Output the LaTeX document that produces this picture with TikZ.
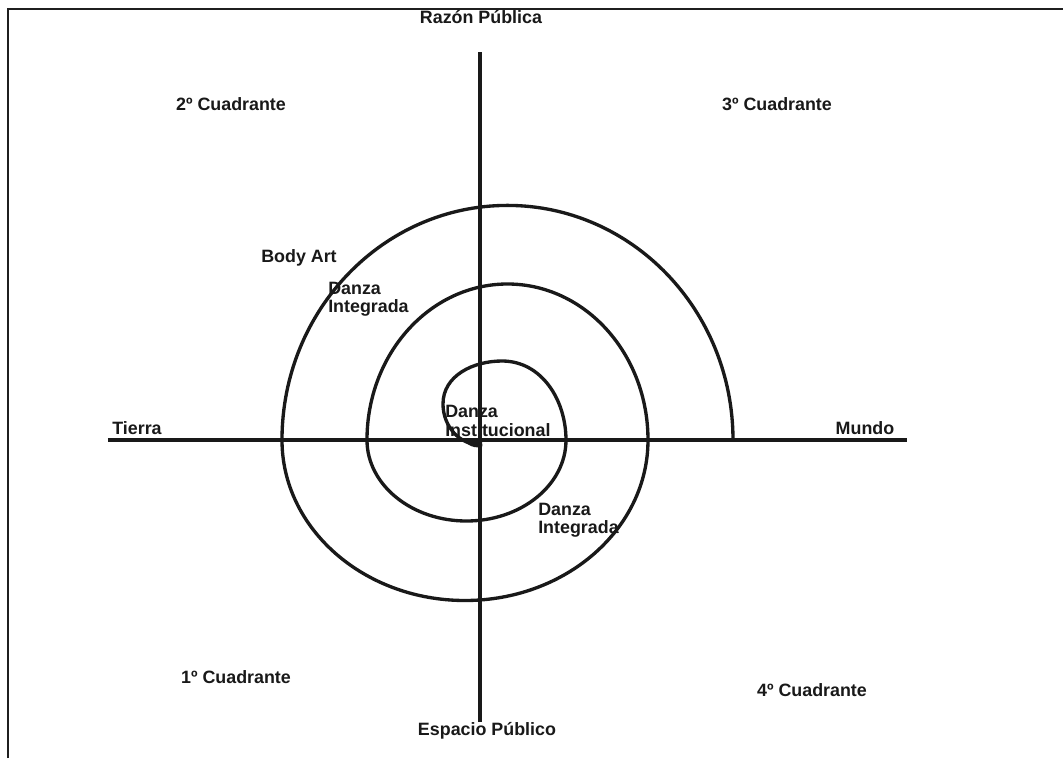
\documentclass[tikz,border=0pt]{standalone}
\usepackage{fontspec}
\setmainfont{Liberation Sans}
\usepackage{tikz}
\usetikzlibrary{positioning}

\begin{document}
\begin{tikzpicture}[
    x=0.75pt, y=0.75pt,
    every node/.style={font=\bfseries\fontsize{13.4}{13.6}\selectfont, text=black!90, inner sep=0pt},
    frameLine/.style={draw=black!88, line width=1.1pt},
    axisLine/.style={draw=black!90, line width=2.6pt},
    spiralLine/.style={draw=black!90, line width=2.5pt, line cap=round},
    axisLabel/.style={anchor=center},
    quadLabel/.style={anchor=center},
    tagLabel/.style={anchor=west, align=left}
  ]
    \useasboundingbox (-480,-318) rectangle (583,440);
    \fill[white] (-480,-318) rectangle (583,440);

    \coordinate (frameLow) at (-472,-318);
    \coordinate (frameCorner) at (-472,431);
    \coordinate (frameRight) at (583,431);
    \draw[frameLine] (frameLow) -- (frameCorner) -- (frameRight);

    \coordinate (axisTop) at (0,388);
    \coordinate (axisBottom) at (0,-282);
    \coordinate (axisLeft) at (-372,0);
    \coordinate (axisRight) at (427,0);
    \draw[axisLine] (axisTop) -- (axisBottom);
    \draw[axisLine] (axisLeft) -- (axisRight);

    \node[axisLabel] (razon) at (1,423) {Razón Pública};
    \node[axisLabel] (espacio) at (7,-291) {Espacio Público};
    \node[axisLabel] (tierra) at (-343,12) {Tierra};
    \node[axisLabel] (mundo) at (385,12) {Mundo};

    \node[quadLabel] (quadTwo) at (-249,336) {2º Cuadrante};
    \node[quadLabel] (quadThree) at (297,336) {3º Cuadrante};
    \node[quadLabel] (quadOne) at (-244,-237) {1º Cuadrante};
    \node[quadLabel] (quadFour) at (332,-250) {4º Cuadrante};

    \fill[black!90] (-16,-1) .. controls (-9,-8) and (-2,-8) .. (2,-7) -- (2,0) -- cycle;
    \draw[spiralLine] (1,-5) to[out=180,in=-90] (-37,36) to[out=90,in=180] (22,79)
      to[out=0,in=90] (86,0)
      arc[start angle=0, end angle=-180, x radius=99.5, y radius=81]
      arc[start angle=180, end angle=0, x radius=140.5, y radius=156]
      arc[start angle=0, end angle=-180, x radius=183, y radius=160.5]
      arc[start angle=180, end angle=0, x radius=225.5, y radius=234.6];

    \node[axisLabel] (bodyArt) at (-181,182) {Body Art};
    \node[tagLabel] (integUp) at (-152,141) {Danza\\Integrada};
    \node[tagLabel] (instit) at (-35,19) {Danza\\Institucional};
    \node[tagLabel] (integLow) at (58,-80) {Danza\\Integrada};
  \end{tikzpicture}
\end{document}
